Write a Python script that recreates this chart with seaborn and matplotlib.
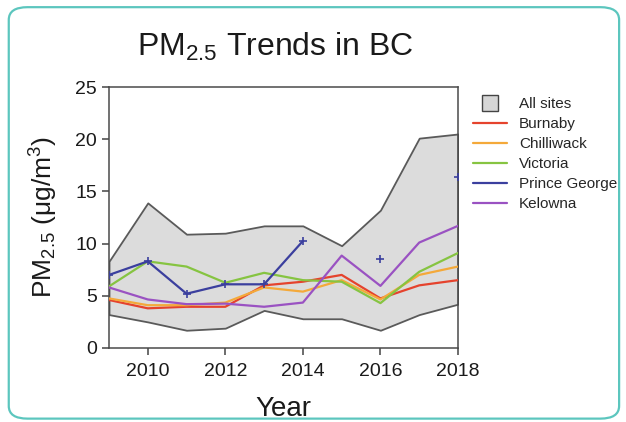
import numpy as np
import pandas as pd
import seaborn as sns
import matplotlib.pyplot as plt
from matplotlib.patches import FancyBboxPatch
from matplotlib.lines import Line2D

# values
years = [2009, 2010, 2011, 2012, 2013, 2014, 2015, 2016, 2017, 2018]
all_sites_max = [8.3, 13.9, 10.9, 11.0, 11.7, 11.7, 9.8, 13.2, 20.1, 20.5]
all_sites_min = [3.2, 2.5, 1.7, 1.9, 3.6, 2.8, 2.8, 1.7, 3.2, 4.2]

burnaby = [4.6, 3.8, 3.95, 3.95, 6.0, 6.35, 7.0, 4.75, 6.0, 6.5]
chilliwack = [4.75, 4.1, 4.1, 4.35, 5.8, 5.4, 6.5, 4.65, 7.0, 7.8]
victoria = [5.9, 8.3, 7.8, 6.25, 7.2, 6.5, 6.35, 4.3, 7.3, 9.1]
prince_george = [7.0, 8.3, 5.2, 6.1, 6.1, 10.25, np.nan, 8.5, np.nan, 16.4]
kelowna = [5.8, 4.65, 4.2, 4.25, 3.95, 4.35, 8.85, 5.95, 10.1, 11.7]

sites = ['Burnaby', 'Chilliwack', 'Victoria', 'Kelowna']
site_colors = {'Burnaby': '#e5432d', 'Chilliwack': '#f4a93a', 'Victoria': '#86c441',
               'Prince George': '#3b3f9e', 'Kelowna': '#9a52c2'}

df = pd.DataFrame({'Year': years * 4,
                   'PM25': burnaby + chilliwack + victoria + kelowna,
                   'Site': [s for s in sites for _ in years]})

sns.set_style('white')
plt.rcParams['font.family'] = ['Liberation Sans', 'DejaVu Sans']
plt.rcParams['mathtext.fontset'] = 'custom'
plt.rcParams['mathtext.rm'] = 'Liberation Sans'
plt.rcParams['mathtext.it'] = 'Liberation Sans:italic'

fig = plt.figure(figsize=(6.26, 4.22), dpi=100)
ax = fig.add_axes([109 / 626, 1 - 348 / 422, 349 / 626, 261 / 422])

# rounded teal frame round the whole picture
frame = FancyBboxPatch((0.014, 0.008), 0.975, 0.975, boxstyle='round,pad=0,rounding_size=0.03',
                       transform=fig.transFigure, facecolor='none', edgecolor='#5cc6be',
                       linewidth=1.6, zorder=0)
fig.patches.append(frame)

ax.fill_between(years, all_sites_min, all_sites_max, facecolor='#dcdcdc',
                edgecolor='#5a5a5a', linewidth=1.3, zorder=1)

sns.lineplot(data=df, x='Year', y='PM25', hue='Site', palette=site_colors,
             hue_order=sites, linewidth=1.6, legend=False, ax=ax, zorder=3)
ax.plot(years, prince_george, color=site_colors['Prince George'], linewidth=1.6,
        marker='+', markersize=6, markeredgewidth=1.2, zorder=4)

ax.set_xlim(2009, 2018)
ax.set_ylim(0, 25)
ax.set_xticks([2010, 2012, 2014, 2016, 2018])
ax.set_yticks([0, 5, 10, 15, 20, 25])
ax.tick_params(axis='both', labelsize=14, length=5, width=1.1, direction='out',
               bottom=True, left=True, colors='#444444', labelcolor='#1a1a1a')
ax.tick_params(axis='x', pad=6)
for sp in ax.spines.values():
    sp.set_color('#4a4a4a')
    sp.set_linewidth(1.1)

ax.set_xlabel('Year', fontsize=20, labelpad=11, color='#1a1a1a')
ax.set_ylabel('PM$_{2.5}$ (μg/m$^3$)', fontsize=19, labelpad=11, color='#1a1a1a')
fig.text(275 / 626, 1 - 47 / 422, 'PM$_{2.5}$ Trends in BC', fontsize=23,
         ha='center', va='center', color='#1a1a1a')

handles = [Line2D([0], [0], linestyle='none', marker='s', markersize=12,
                  markerfacecolor='#d6d6d6', markeredgecolor='#444444', markeredgewidth=1.0)]
labels = ['All sites']
for name in ['Burnaby', 'Chilliwack', 'Victoria', 'Prince George', 'Kelowna']:
    handles.append(Line2D([0], [0], color=site_colors[name], linewidth=1.6))
    labels.append(name)
fig.legend(handles, labels, loc='upper left', bbox_to_anchor=(467 / 626, 1 - 91 / 422),
           frameon=False, fontsize=11, handlelength=2.2,
           labelspacing=0.39, handletextpad=0.8, borderaxespad=0)

fig.savefig('out.png', dpi=100)
